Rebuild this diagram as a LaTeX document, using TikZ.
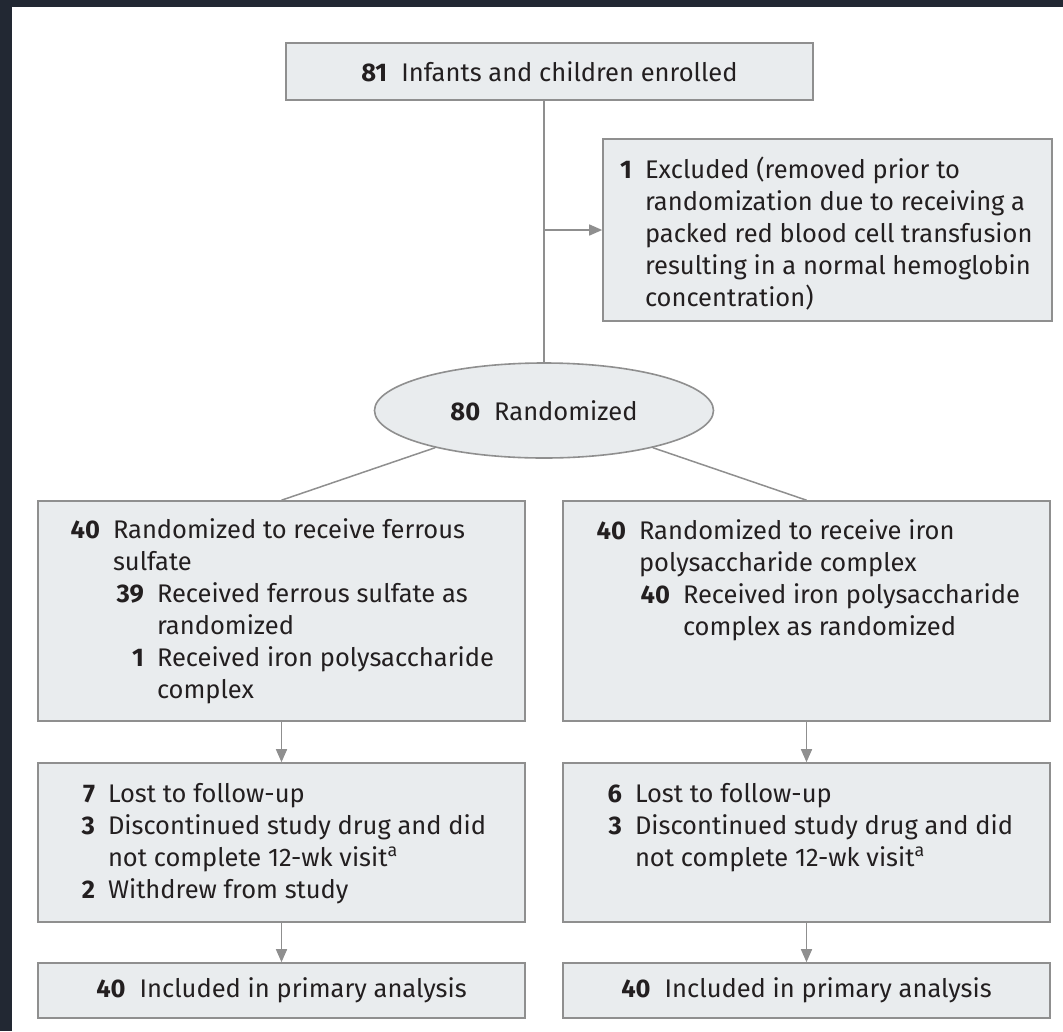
\documentclass[tikz,border=0pt]{standalone}
\usepackage{fontspec}
\setmainfont{Fira Sans}
\usetikzlibrary{arrows.meta, shapes.geometric, positioning}
\definecolor{edgebg}{HTML}{222833}
\definecolor{boxfill}{HTML}{E9ECEE}
\definecolor{boxline}{HTML}{8F8F8F}
\definecolor{ink}{HTML}{231F20}
\newcommand{\cnt}[3]{\hbox{\hspace*{#1}\llap{\textbf{#2}\hspace{13pt}}#3}}
\newcommand{\cont}[2]{\hbox{\hspace*{#1}#2}}
\newcommand{\panel}[4]{\parbox[c][#2][t]{#1}{\hbox to#1{}\vskip\dimexpr#3-\baselineskip\relax #4}}
\begin{document}
\begin{tikzpicture}[x=1pt, y=-1pt,
    every node/.style={font=\fontsize{25.5}{32}\selectfont, text=ink},
    stage/.style={draw=boxline, fill=boxfill, line width=1.6pt, inner sep=0pt},
    oval/.style={stage, ellipse, minimum width=339pt, minimum height=95pt},
    link/.style={draw=boxline, line width=1.5pt},
    flow/.style={link, -{Triangle[width=11pt,length=13pt]}}]
  \fill[edgebg] (0,0) rectangle (1063,1031);
  \fill[white] (12,7) rectangle (1063,1031);
  \node[stage, minimum width=527pt, minimum height=57pt] (enrol) at (549.5,71.5)
    {\textbf{81}\hspace{14pt}Infants and children enrolled};
  \node[stage] (excl) at (827.5,230) {\panel{449pt}{182pt}{39pt}{
      \cnt{42pt}{1}{Excluded (removed prior to}
      \cont{42pt}{randomization due to receiving a}
      \cont{42pt}{packed red blood cell transfusion}
      \cont{42pt}{resulting in a normal hemoglobin}
      \cont{42pt}{concentration)}}};
  \node[oval] (rand) at (544,410.5) {\textbf{80}\hspace{14pt}Randomized};
  \node[stage] (armA) at (281.5,611) {\panel{487pt}{220pt}{37pt}{
      \cnt{75pt}{40}{Randomized to receive ferrous}
      \cont{75pt}{sulfate}
      \cnt{119pt}{39}{Received ferrous sulfate as}
      \cont{119pt}{randomized}
      \cnt{119pt}{1}{Received iron polysaccharide}
      \cont{119pt}{complex}}};
  \node[stage] (armB) at (806.5,611) {\panel{487pt}{220pt}{38pt}{
      \cnt{76pt}{40}{Randomized to receive iron}
      \cont{76pt}{polysaccharide complex}
      \cnt{120pt}{40}{Received iron polysaccharide}
      \cont{120pt}{complex as randomized}}};
  \node[stage] (lossA) at (281.5,842.5) {\panel{487pt}{159pt}{39pt}{
      \cnt{70pt}{7}{Lost to follow-up}
      \cnt{70pt}{3}{Discontinued study drug and did}
      \cont{70pt}{not complete 12-wk visit\textsuperscript{a}}
      \cnt{70pt}{2}{Withdrew from study}}};
  \node[stage] (lossB) at (806.5,842.5) {\panel{487pt}{159pt}{39pt}{
      \cnt{72pt}{6}{Lost to follow-up}
      \cnt{72pt}{3}{Discontinued study drug and did}
      \cont{72pt}{not complete 12-wk visit\textsuperscript{a}}}};
  \node[stage, minimum width=487pt, minimum height=55pt] (anaA) at (281.5,990.5)
    {\textbf{40}\hspace{14pt}Included in primary analysis};
  \node[stage, minimum width=487pt, minimum height=55pt] (anaB) at (806.5,990.5)
    {\textbf{40}\hspace{14pt}Included in primary analysis};
  \draw[link] (enrol.south -| rand.north) -- (rand.north);
  \draw[flow] (excl.west -| rand.north) -- (excl.west);
  \draw[link] (rand) -- (armA.north);
  \draw[link] (rand) -- (armB.north);
  \draw[flow] (armA) -- (lossA);
  \draw[flow] (armB) -- (lossB);
  \draw[flow] (lossA) -- (anaA);
  \draw[flow] (lossB) -- (anaB);
\end{tikzpicture}
\end{document}
